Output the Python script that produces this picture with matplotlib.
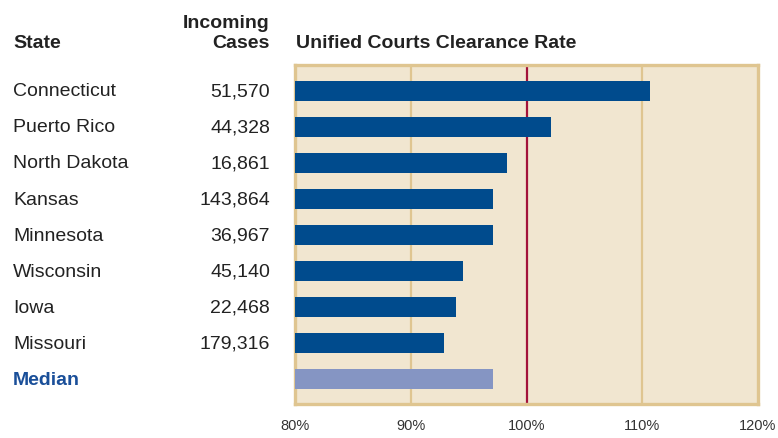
import matplotlib.pyplot as plt
import matplotlib.transforms as mtransforms

# data
states = ["Connecticut", "Puerto Rico", "North Dakota", "Kansas", "Minnesota",
          "Wisconsin", "Iowa", "Missouri", "Median"]
incoming = ["51,570", "44,328", "16,861", "143,864", "36,967",
            "45,140", "22,468", "179,316", ""]
clearance = [110.7, 102.1, 98.3, 97.1, 97.1, 94.5, 93.9, 92.9, 97.1]
ticks = [80, 90, 100, 110, 120]

plt.rcParams['font.family'] = ['Liberation Sans', 'DejaVu Sans']

dark = "#004b8d"
light = "#8595c3"
bg = "#f1e6d0"
frame = "#dfc590"
red = "#a3123a"
txt = "#222222"
fs = 14

fig = plt.figure(figsize=(7.78, 4.39), dpi=100)
ax = fig.add_axes([295 / 778, 34 / 439, 463 / 778, 339 / 439])
ax.set_facecolor(bg)

ypos = list(range(len(states)))
colors = [dark] * (len(states) - 1) + [light]
ax.barh(ypos, [c - 80 for c in clearance], left=80, height=0.55,
        color=colors, zorder=3)

for g in (90, 110):
    ax.axvline(g, color=frame, lw=1.6, zorder=1)
ax.axvline(100, color=red, lw=1.6, zorder=2)

ax.set_xlim(80, 120)
ax.set_ylim(len(states) - 1 + 0.69, -0.72)
ax.set_xticks(ticks)
ax.set_xticklabels([f"{t}%" for t in ticks], fontsize=10.5, color="#333333")
ax.tick_params(axis="x", length=0, pad=10)
ax.set_yticks([])
for s in ax.spines.values():
    s.set_color(frame)
    s.set_linewidth(2.4)

trans = mtransforms.blended_transform_factory(fig.transFigure, ax.transData)
for i, (st, n) in enumerate(zip(states, incoming)):
    if st == "Median":
        ax.text(13 / 778, i, st, transform=trans, fontsize=fs,
                fontweight="bold", color="#1a4f99", va="center", ha="left")
    else:
        ax.text(13 / 778, i, st, transform=trans, fontsize=fs,
                color=txt, va="center", ha="left")
    ax.text(270 / 778, i, n, transform=trans, fontsize=fs,
            color=txt, va="center", ha="right")

fig.text(13 / 778, 1 - 48 / 439, "State", fontsize=fs, fontweight="bold",
         color=txt, ha="left", va="baseline")
fig.text(270 / 778, 1 - 48 / 439, "Incoming\nCases", fontsize=fs,
         fontweight="bold", color=txt, ha="right", va="baseline",
         multialignment="right", linespacing=1.2)
fig.text(296 / 778, 1 - 48 / 439, "Unified Courts Clearance Rate",
         fontsize=fs, fontweight="bold", color=txt, ha="left", va="baseline")

fig.savefig("out.png", dpi=100)
